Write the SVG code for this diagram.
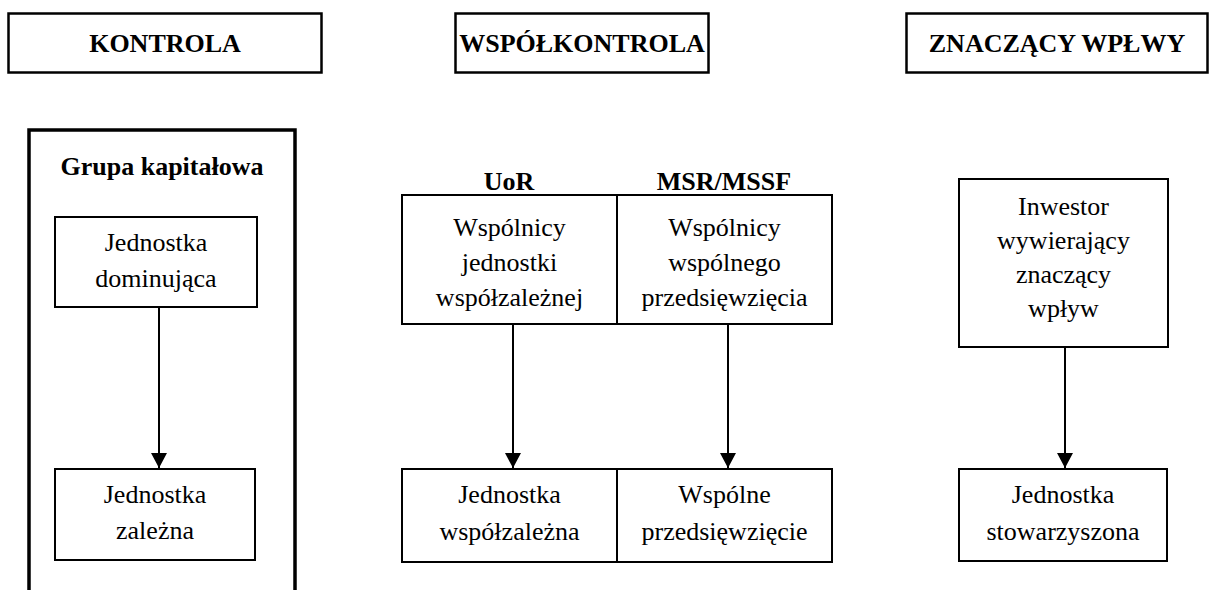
<svg xmlns="http://www.w3.org/2000/svg" width="1210" height="590" viewBox="0 0 1210 590">
  <style>
    .hdr { fill: #fff; stroke: #000; stroke-width: 2.5; }
    .box { fill: #fff; stroke: #000; stroke-width: 2; }
    .grp { fill: none; stroke: #000; stroke-width: 3.5; }
    text { font-family: "Liberation Serif", "Times New Roman", serif; font-size: 26px; fill: #000; text-anchor: middle; }
    .b { font-weight: bold; }
    .conn line { stroke: #000; stroke-width: 2; }
  </style>
  <defs>
    <marker id="arr" markerUnits="userSpaceOnUse" markerWidth="16" markerHeight="16" refX="15" refY="8" orient="auto">
      <path d="M0,0 L15,8 L0,16 Z" fill="#000"/>
    </marker>
  </defs>
  <rect width="1210" height="590" fill="#fff"/>

  <!-- column headers -->
  <g id="h-kontrola">
    <rect class="hdr" x="8.5" y="13.5" width="313" height="59"/>
    <text class="b" x="165" y="52">KONTROLA</text>
  </g>
  <g id="h-wspolkontrola">
    <rect class="hdr" x="455.5" y="13.5" width="253" height="59"/>
    <text class="b" x="582" y="52">WSPÓŁKONTROLA</text>
  </g>
  <g id="h-znaczacy">
    <rect class="hdr" x="906.5" y="13.5" width="301" height="59"/>
    <text class="b" x="1057" y="52">ZNACZĄCY WPŁWY</text>
  </g>

  <!-- capital group frame -->
  <g id="grupa">
    <path class="grp" d="M29,592 V130 H295 V592"/>
    <text class="b" x="162" y="175">Grupa kapitałowa</text>
  </g>

  <g id="dominujaca">
    <rect class="box" x="55" y="217" width="202" height="90"/>
    <text x="156" y="251">Jednostka</text>
    <text x="156" y="287">dominująca</text>
  </g>
  <g id="zalezna">
    <rect class="box" x="55" y="469" width="200" height="91"/>
    <text x="155" y="503">Jednostka</text>
    <text x="155" y="539">zależna</text>
  </g>

  <!-- joint control -->
  <text class="b" x="509" y="190">UoR</text>
  <text class="b" x="724" y="190">MSR/MSSF</text>
  <g id="wspolnicy-jw">
    <rect class="box" x="402" y="195" width="215" height="129"/>
    <text x="509.5" y="236">Wspólnicy</text>
    <text x="509.5" y="271">jednostki</text>
    <text x="509.5" y="306">współzależnej</text>
  </g>
  <g id="wspolnicy-wp">
    <rect class="box" x="617" y="195" width="215" height="129"/>
    <text x="724.5" y="236">Wspólnicy</text>
    <text x="724.5" y="271">wspólnego</text>
    <text x="724.5" y="306">przedsięwzięcia</text>
  </g>
  <g id="wspolzalezna">
    <rect class="box" x="402" y="469" width="215" height="93"/>
    <text x="509.5" y="503">Jednostka</text>
    <text x="509.5" y="540">współzależna</text>
  </g>
  <g id="wspolne-przedsiewziecie">
    <rect class="box" x="617" y="469" width="215" height="93"/>
    <text x="724.5" y="503">Wspólne</text>
    <text x="724.5" y="540">przedsięwzięcie</text>
  </g>

  <!-- significant influence -->
  <g id="inwestor">
    <rect class="box" x="959" y="179" width="209" height="168"/>
    <text x="1063.5" y="215">Inwestor</text>
    <text x="1063.5" y="249">wywierający</text>
    <text x="1063.5" y="283">znaczący</text>
    <text x="1063.5" y="317">wpływ</text>
  </g>
  <g id="stowarzyszona">
    <rect class="box" x="959" y="469" width="208" height="92"/>
    <text x="1063" y="503">Jednostka</text>
    <text x="1063" y="540">stowarzyszona</text>
  </g>

  <!-- connectors -->
  <g class="conn">
    <line x1="159" y1="307" x2="159" y2="468" marker-end="url(#arr)"/>
    <line x1="513" y1="324" x2="513" y2="468" marker-end="url(#arr)"/>
    <line x1="728" y1="324" x2="728" y2="468" marker-end="url(#arr)"/>
    <line x1="1065" y1="347" x2="1065" y2="468" marker-end="url(#arr)"/>
  </g>
</svg>
